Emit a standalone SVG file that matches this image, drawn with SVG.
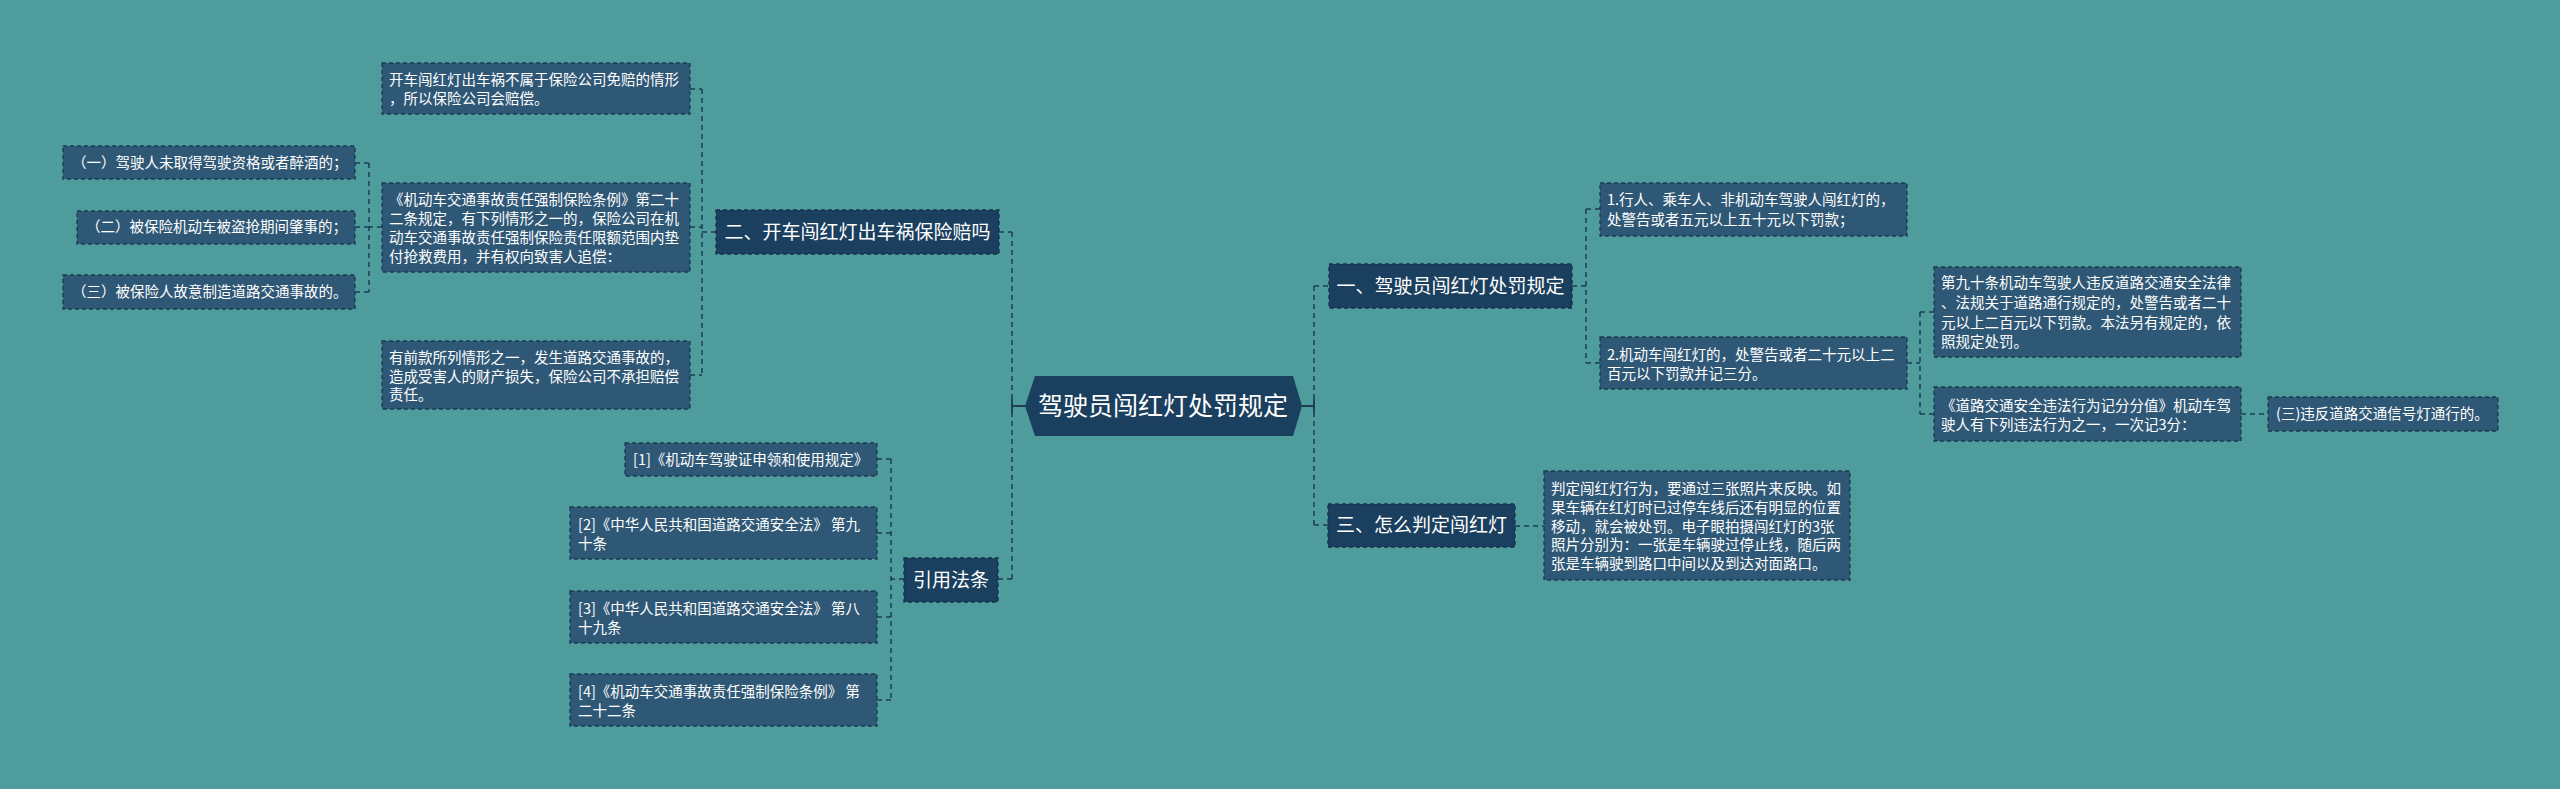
<svg xmlns="http://www.w3.org/2000/svg" width="2560" height="789" viewBox="0 0 2560 789">
<style>
.bg{fill:#4E9C9B}
.leaf{fill:#2F5876;stroke:#1B3A52;stroke-width:1.3;stroke-dasharray:4 3}
.top{fill:#1B3F5E;stroke:#16324A;stroke-width:1.3;stroke-dasharray:4 3}
.root{fill:#1B3F5E}
.t{font-family:"Noto Sans CJK SC","Noto Sans",sans-serif;fill:#FFFFFF;font-size:14.5px}
.tm{font-family:"Noto Sans CJK SC","Noto Sans",sans-serif;fill:#FFFFFF;font-size:19px;text-anchor:middle}
.tr{font-family:"Noto Sans CJK SC","Noto Sans",sans-serif;fill:#FFFFFF;font-size:25px;text-anchor:middle}
.c{fill:none;stroke:#1E3D55;stroke-width:1.5;stroke-dasharray:5 4}
.cs{fill:none;stroke:#1E3D55;stroke-width:1.8}
</style>
<rect class="bg" x="0" y="0" width="2560" height="789"/>
<g id="connectors">
<path class="cs" d="M1025 406 H1012 M1012 399 V413"/>
<path class="c" d="M1012 232 V579 M999 232 H1012 M998 579 H1012"/>
<path class="cs" d="M1302 406 H1314 M1314 399 V413"/>
<path class="c" d="M1314 286 V525 M1314 286 H1329 M1314 525 H1328"/>
<path class="c" d="M716 232 H702 M702 89 V375 M690 89 H702 M690 227 H702 M690 375 H702"/>
<path class="c" d="M382 227 H369 M369 163 V292 M355 163 H369 M355 227 H369 M355 292 H369"/>
<path class="c" d="M904 579 H891 M891 459 V700 M877 459 H891 M877 533 H891 M877 617 H891 M877 700 H891"/>
<path class="c" d="M1572 286 H1586 M1586 209 V363 M1586 209 H1600 M1586 363 H1600"/>
<path class="c" d="M1907 363 H1920 M1920 312 V414 M1920 312 H1934 M1920 414 H1934"/>
<path class="c" d="M2241 414 H2268"/>
<path class="c" d="M1515 526 H1544"/>
</g>
<g id="root">
<polygon class="root" points="1025,406 1035,376 1293,376 1302,406 1293,436 1035,436"/>
<text class="tr" x="1163" y="415">驾驶员闯红灯处罚规定</text>
</g>
<g id="n2">
<rect class="top" x="716" y="210" width="283" height="44"/>
<text class="tm" x="857.5" y="238.5">二、开车闯红灯出车祸保险赔吗</text>
</g>
<g id="n2a">
<rect class="leaf" x="382" y="63" width="308" height="51"/>
<text class="t" x="389"><tspan x="389" y="85">开车闯红灯出车祸不属于保险公司免赔的情形</tspan><tspan x="389" y="104">，所以保险公司会赔偿。</tspan></text>
</g>
<g id="n2b">
<rect class="leaf" x="382" y="183" width="308" height="89"/>
<text class="t"><tspan x="389" y="205">《机动车交通事故责任强制保险条例》第二十</tspan><tspan x="389" y="224">二条规定，有下列情形之一的，保险公司在机</tspan><tspan x="389" y="243">动车交通事故责任强制保险责任限额范围内垫</tspan><tspan x="389" y="262">付抢救费用，并有权向致害人追偿：</tspan></text>
</g>
<g id="n2b1">
<rect class="leaf" x="63" y="146" width="292" height="33"/>
<text class="t" x="72" y="168">（一）驾驶人未取得驾驶资格或者醉酒的；</text>
</g>
<g id="n2b2">
<rect class="leaf" x="77" y="211" width="278" height="33"/>
<text class="t" x="86" y="232">（二）被保险机动车被盗抢期间肇事的；</text>
</g>
<g id="n2b3">
<rect class="leaf" x="63" y="275" width="292" height="34"/>
<text class="t" x="72" y="297">（三）被保险人故意制造道路交通事故的。</text>
</g>
<g id="n2c">
<rect class="leaf" x="382" y="341" width="308" height="68"/>
<text class="t"><tspan x="389" y="363">有前款所列情形之一，发生道路交通事故的，</tspan><tspan x="389" y="382">造成受害人的财产损失，保险公司不承担赔偿</tspan><tspan x="389" y="400">责任。</tspan></text>
</g>
<g id="n4">
<rect class="top" x="904" y="558" width="94" height="44"/>
<text class="tm" x="951" y="586.5">引用法条</text>
</g>
<g id="n4a">
<rect class="leaf" x="625" y="443" width="252" height="33"/>
<text class="t" x="633" y="465">[1]《机动车驾驶证申领和使用规定》</text>
</g>
<g id="n4b">
<rect class="leaf" x="570" y="507" width="307" height="52"/>
<text class="t"><tspan x="578" y="530">[2]《中华人民共和国道路交通安全法》 第九</tspan><tspan x="578" y="549">十条</tspan></text>
</g>
<g id="n4c">
<rect class="leaf" x="570" y="591" width="307" height="52"/>
<text class="t"><tspan x="578" y="614">[3]《中华人民共和国道路交通安全法》 第八</tspan><tspan x="578" y="633">十九条</tspan></text>
</g>
<g id="n4d">
<rect class="leaf" x="570" y="674" width="307" height="52"/>
<text class="t"><tspan x="578" y="697">[4]《机动车交通事故责任强制保险条例》 第</tspan><tspan x="578" y="716">二十二条</tspan></text>
</g>
<g id="n1">
<rect class="top" x="1329" y="264" width="243" height="44"/>
<text class="tm" x="1450.5" y="292.5">一、驾驶员闯红灯处罚规定</text>
</g>
<g id="n1a">
<rect class="leaf" x="1600" y="183" width="307" height="53"/>
<text class="t"><tspan x="1607" y="205">1.行人、乘车人、非机动车驾驶人闯红灯的，</tspan><tspan x="1607" y="225">处警告或者五元以上五十元以下罚款；</tspan></text>
</g>
<g id="n1b">
<rect class="leaf" x="1600" y="337" width="307" height="52"/>
<text class="t"><tspan x="1607" y="360">2.机动车闯红灯的，处警告或者二十元以上二</tspan><tspan x="1607" y="379">百元以下罚款并记三分。</tspan></text>
</g>
<g id="n1b1">
<rect class="leaf" x="1934" y="267" width="307" height="90"/>
<text class="t"><tspan x="1941" y="288">第九十条机动车驾驶人违反道路交通安全法律</tspan><tspan x="1941" y="308">、法规关于道路通行规定的，处警告或者二十</tspan><tspan x="1941" y="328">元以上二百元以下罚款。本法另有规定的，依</tspan><tspan x="1941" y="347">照规定处罚。</tspan></text>
</g>
<g id="n1b2">
<rect class="leaf" x="1934" y="387" width="307" height="54"/>
<text class="t"><tspan x="1941" y="411">《道路交通安全违法行为记分分值》机动车驾</tspan><tspan x="1941" y="430">驶人有下列违法行为之一，一次记3分：</tspan></text>
</g>
<g id="n1b2a">
<rect class="leaf" x="2268" y="397" width="230" height="34"/>
<text class="t" x="2276" y="419">(三)违反道路交通信号灯通行的。</text>
</g>
<g id="n3">
<rect class="top" x="1328" y="504" width="187" height="43"/>
<text class="tm" x="1421.5" y="532">三、怎么判定闯红灯</text>
</g>
<g id="n3a">
<rect class="leaf" x="1544" y="471" width="306" height="109"/>
<text class="t"><tspan x="1551" y="494">判定闯红灯行为，要通过三张照片来反映。如</tspan><tspan x="1551" y="513">果车辆在红灯时已过停车线后还有明显的位置</tspan><tspan x="1551" y="532">移动，就会被处罚。电子眼拍摄闯红灯的3张</tspan><tspan x="1551" y="550">照片分别为：一张是车辆驶过停止线，随后两</tspan><tspan x="1551" y="569">张是车辆驶到路口中间以及到达对面路口。</tspan></text>
</g>
</svg>
